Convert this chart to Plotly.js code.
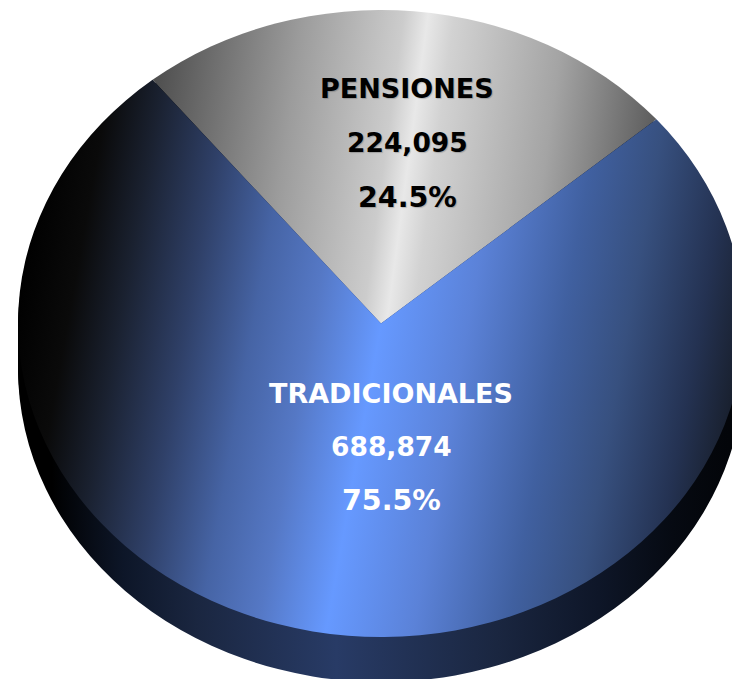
<!DOCTYPE html>
<html>
<head>
<meta charset="utf-8">
<script src="https://cdn.plot.ly/plotly-3.0.1.min.js"></script>
<style>html,body{margin:0;padding:0;background:#fff;overflow:hidden}</style>
</head>
<body>
<div id="chart" style="width:732px;height:679px"></div>
<script>
var categories = ['PENSIONES', 'TRADICIONALES'];
var seriesValues = [224095, 688874];
var valueLabels = ['224,095', '688,874'];
var percentLabels = ['24.5%', '75.5%'];
var labelColors = ['#000000', '#ffffff'];

var W = 732, H = 679;
var labelX = [407, 391];
var labelRows = [[89, 142, 197], [393, 446, 500]];
var rowSizes = [27, 26.5, 28.5];
var sideOffsets = [45, 40, 35, 30, 25, 20, 15, 10, 5];

var pieBase = {
  type: 'pie', labels: categories, values: seriesValues, sort: false,
  direction: 'clockwise', rotation: -39, textinfo: 'none', hoverinfo: 'none',
  showlegend: false, marker: {colors: ['#333333', '#1c2a4a'], line: {width: 0}}
};
var annotations = [];
categories.forEach(function (c, i) {
  [c, valueLabels[i], percentLabels[i]].forEach(function (t, r) {
    annotations.push({
      text: '<b>' + t + '</b>', x: labelX[i] / W, y: 1 - labelRows[i][r] / H,
      xref: 'paper', yref: 'paper', xanchor: 'center', yanchor: 'middle',
      showarrow: false,
      font: {family: 'DejaVu Sans', size: rowSizes[r], color: labelColors[i],
             shadow: i === 0 ? '1px 1px 1px rgba(0,0,0,0.2)' : 'none'}
    });
  });
});
var traces = sideOffsets.map(function () { return Object.assign({}, pieBase); });
traces.push(Object.assign({}, pieBase));

Plotly.newPlot('chart', traces, {
  width: W, height: H, margin: {l: 0, r: 0, t: 0, b: 0},
  paper_bgcolor: '#ffffff', plot_bgcolor: '#ffffff', annotations: annotations
}, {staticPlot: true, displayModeBar: false}).then(function () {
  var svg = document.querySelector('#chart .main-svg');
  var NS = 'http://www.w3.org/2000/svg';
  var defs = svg.querySelector('defs') || svg.insertBefore(document.createElementNS(NS, 'defs'), svg.firstChild);
  // slanted shading: t = u + a*v in the slice's box; stops are given in t
  function grad(id, a, tmax, stops) {
    var k = tmax / (1 + a * a);
    var g = document.createElementNS(NS, 'linearGradient');
    g.setAttribute('id', id);
    g.setAttribute('x1', '0'); g.setAttribute('y1', '0');
    g.setAttribute('x2', k); g.setAttribute('y2', k * a);
    stops.forEach(function (s) {
      var st = document.createElementNS(NS, 'stop');
      st.setAttribute('offset', s[0] / tmax);
      st.setAttribute('stop-color', s[1]);
      g.appendChild(st);
    });
    defs.appendChild(g);
  }
  grad('blueFace', 0.137, 1.137, [[0.05, '#000000'], [0.128, '#0a0a0a'], [0.199, '#1a2130'], [0.292, '#2f4068'], [0.384, '#4664a5'],
                    [0.465, '#5578c5'], [0.56, '#6699ff'], [0.68, '#5b82d8'], [0.81, '#4060a0'], [0.9, '#37507f'],
                    [1.0, '#243252'], [1.057, '#1a2232'], [1.13, '#000000']]);
  grad('grayFace', 0.0837, 1.0837, [[0, '#484848'], [0.3, '#9c9c9c'], [0.5, '#cccccc'], [0.548, '#e8e8e8'], [0.6, '#d2d2d2'],
                    [0.82, '#a4a4a4'], [1.03, '#5c5c5c']]);
  grad('blueSide', 0.1026, 1.1026, [[0.115, '#000000'], [0.23, '#0d1628'], [0.34, '#1a2640'], [0.54, '#283b66'],
                    [0.76, '#1a2640'], [0.89, '#0e1628'], [0.98, '#060a12'], [1.1, '#000000']]);

  var rx = 363, ry = 313.5, cx = 381, cy = 323.5, r0 = H / 2, c0x = W / 2, c0y = H / 2;
  var groups = svg.querySelectorAll('.pielayer .trace');
  groups.forEach(function (t, k) {
    var side = k < sideOffsets.length;
    var dy = side ? sideOffsets[k] : 0;
    t.setAttribute('transform', 'translate(' + cx + ',' + (cy + dy) + ') scale(' + (rx / r0) + ',' + (ry / r0) + ') translate(' + (-c0x) + ',' + (-c0y) + ')');
    t.querySelectorAll('path.surface').forEach(function (p, i) {
      p.style.fill = side ? 'url(#blueSide)' : (i === 0 ? 'url(#grayFace)' : 'url(#blueFace)');
      p.style.stroke = 'none';
    });
  });
});
</script>
</body>
</html>
